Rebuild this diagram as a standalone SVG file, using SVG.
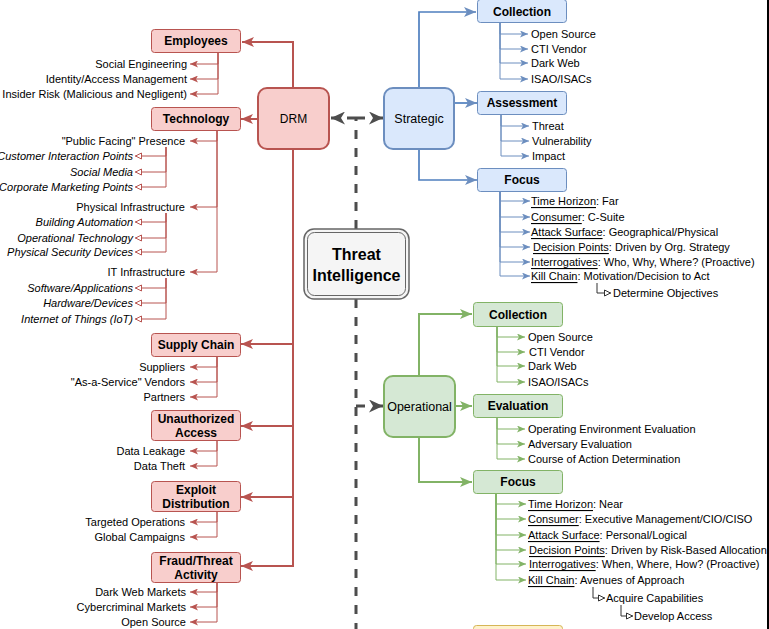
<svg xmlns="http://www.w3.org/2000/svg" width="769" height="629" viewBox="0 0 769 629">
<style>
text{font-family:"Liberation Sans",Arial,sans-serif;fill:#000;}
.nb{font-size:12px;font-weight:bold;text-anchor:middle;dominant-baseline:central;}
.nr{font-size:12.5px;text-anchor:middle;dominant-baseline:central;}
.lf{font-size:11px;dominant-baseline:central;}
.le{font-size:11px;text-anchor:end;dominant-baseline:central;}
.li{font-size:11px;text-anchor:end;font-style:italic;dominant-baseline:central;}
.u{text-decoration:underline;}
.red{fill:#f8cecc;stroke:#b85450;}
.blue{fill:#dae8fc;stroke:#6c8ebf;}
.green{fill:#d5e8d4;stroke:#82b366;}
.rl{fill:none;stroke:#b85450;stroke-width:2;}
.rs{fill:none;stroke:#b85450;stroke-width:1;}
.bl{fill:none;stroke:#4f7fbf;stroke-width:1.7;}
.bs{fill:none;stroke:#6c8ebf;stroke-width:1;}
.gl{fill:none;stroke:#82b366;stroke-width:2;}
.gs{fill:none;stroke:#82b366;stroke-width:1;}
.ks{fill:none;stroke:#333;stroke-width:1;}
.dash{fill:none;stroke:#4d4d4d;stroke-width:3;stroke-dasharray:9 9;}
</style>
<defs>
<marker id="aRed" viewBox="0 0 12 10" refX="12" refY="5" markerWidth="12" markerHeight="10" markerUnits="userSpaceOnUse" orient="auto"><path d="M0,0 L12,5 L0,10 L3,5 Z" fill="#b85450"/></marker>
<marker id="sRed" viewBox="0 0 8 7" refX="8" refY="3.5" markerWidth="8" markerHeight="7" markerUnits="userSpaceOnUse" orient="auto"><path d="M0,0 L8,3.5 L0,7 L2,3.5 Z" fill="#b85450"/></marker>
<marker id="oRed" viewBox="0 0 8 8" refX="7.5" refY="4" markerWidth="8" markerHeight="8" markerUnits="userSpaceOnUse" orient="auto"><path d="M1,1 L7,4 L1,7 Z" fill="#fff" stroke="#b85450" stroke-width="1"/></marker>
<marker id="aBlue" viewBox="0 0 12 10" refX="12" refY="5" markerWidth="12" markerHeight="10" markerUnits="userSpaceOnUse" orient="auto"><path d="M0,0 L12,5 L0,10 L3,5 Z" fill="#6c8ebf"/></marker>
<marker id="sBlue" viewBox="0 0 8 7" refX="8" refY="3.5" markerWidth="8" markerHeight="7" markerUnits="userSpaceOnUse" orient="auto"><path d="M0,0 L8,3.5 L0,7 L2,3.5 Z" fill="#6c8ebf"/></marker>
<marker id="aGreen" viewBox="0 0 12 10" refX="12" refY="5" markerWidth="12" markerHeight="10" markerUnits="userSpaceOnUse" orient="auto"><path d="M0,0 L12,5 L0,10 L3,5 Z" fill="#82b366"/></marker>
<marker id="sGreen" viewBox="0 0 8 7" refX="8" refY="3.5" markerWidth="8" markerHeight="7" markerUnits="userSpaceOnUse" orient="auto"><path d="M0,0 L8,3.5 L0,7 L2,3.5 Z" fill="#82b366"/></marker>
<marker id="oBlack" viewBox="0 0 8 8" refX="7.5" refY="4" markerWidth="8" markerHeight="8" markerUnits="userSpaceOnUse" orient="auto"><path d="M1,1 L7,4 L1,7 Z" fill="#fff" stroke="#333" stroke-width="1"/></marker>
<marker id="aDark" viewBox="0 0 14 13" refX="14" refY="6.5" markerWidth="14" markerHeight="13" markerUnits="userSpaceOnUse" orient="auto"><path d="M0,0 L14,6.5 L0,13 L4,6.5 Z" fill="#4d4d4d"/></marker>
</defs>
<rect x="0" y="0" width="769" height="629" fill="#fff"/>

<g id="connectors">
<!-- dashed -->
<path class="dash" d="M356,229 V118"/>
<path class="dash" d="M356,118 H331" marker-end="url(#aDark)"/>
<path class="dash" d="M356,118 H383" marker-end="url(#aDark)"/>
<path class="dash" d="M356,299 V640"/>
<path class="dash" d="M356,406 H383" marker-end="url(#aDark)"/>
<!-- DRM main -->
<path class="rl" d="M293,88 V42 H242" marker-end="url(#aRed)"/>
<path class="rl" d="M258,119 H241" marker-end="url(#aRed)"/>
<path class="rl" d="M293,149 V344 H241" marker-end="url(#aRed)"/>
<path class="rl" d="M293,149 V426 H241" marker-end="url(#aRed)"/>
<path class="rl" d="M293,149 V497 H241" marker-end="url(#aRed)"/>
<path class="rl" d="M293,149 V566 H241" marker-end="url(#aRed)"/>
<!-- Employees leaves -->
<path class="rs" d="M218,53 V64 H190" marker-end="url(#sRed)"/>
<path class="rs" d="M218,53 V79 H190" marker-end="url(#sRed)"/>
<path class="rs" d="M218,53 V94 H190" marker-end="url(#sRed)"/>
<!-- Technology leaves -->
<path class="rs" d="M217,130 V141 H190" marker-end="url(#sRed)"/>
<path class="rs" d="M217,130 V207 H190" marker-end="url(#sRed)"/>
<path class="rs" d="M217,130 V272 H190" marker-end="url(#sRed)"/>
<path class="rs" d="M166,147 V156 H135" marker-end="url(#oRed)"/>
<path class="rs" d="M166,147 V172 H135" marker-end="url(#oRed)"/>
<path class="rs" d="M166,147 V187 H135" marker-end="url(#oRed)"/>
<path class="rs" d="M166,213 V222 H135" marker-end="url(#oRed)"/>
<path class="rs" d="M166,213 V238 H135" marker-end="url(#oRed)"/>
<path class="rs" d="M166,213 V252 H135" marker-end="url(#oRed)"/>
<path class="rs" d="M166,278 V288 H135" marker-end="url(#oRed)"/>
<path class="rs" d="M166,278 V303 H135" marker-end="url(#oRed)"/>
<path class="rs" d="M166,278 V319 H135" marker-end="url(#oRed)"/>
<!-- Supply chain leaves -->
<path class="rs" d="M217,356 V367 H190" marker-end="url(#sRed)"/>
<path class="rs" d="M217,356 V382 H190" marker-end="url(#sRed)"/>
<path class="rs" d="M217,356 V397 H190" marker-end="url(#sRed)"/>
<!-- Unauthorized leaves -->
<path class="rs" d="M217,440 V451 H190" marker-end="url(#sRed)"/>
<path class="rs" d="M217,440 V466 H190" marker-end="url(#sRed)"/>
<!-- Exploit leaves -->
<path class="rs" d="M217,511 V522 H190" marker-end="url(#sRed)"/>
<path class="rs" d="M217,511 V537 H190" marker-end="url(#sRed)"/>
<!-- Fraud leaves -->
<path class="rs" d="M217,582 V592 H190" marker-end="url(#sRed)"/>
<path class="rs" d="M217,582 V607 H190" marker-end="url(#sRed)"/>
<path class="rs" d="M217,582 V622 H190" marker-end="url(#sRed)"/>
<!-- Strategic -->
<path class="bl" d="M419,87 V12 H476" marker-end="url(#aBlue)"/>
<path class="bl" d="M454,103 H477" marker-end="url(#aBlue)"/>
<path class="bl" d="M419,149 V180 H477" marker-end="url(#aBlue)"/>
<path class="bs" d="M500,23 V34 H528" marker-end="url(#sBlue)"/>
<path class="bs" d="M500,23 V49 H528" marker-end="url(#sBlue)"/>
<path class="bs" d="M500,23 V63 H528" marker-end="url(#sBlue)"/>
<path class="bs" d="M500,23 V79 H528" marker-end="url(#sBlue)"/>
<path class="bs" d="M501,115 V126 H529" marker-end="url(#sBlue)"/>
<path class="bs" d="M501,115 V141 H529" marker-end="url(#sBlue)"/>
<path class="bs" d="M501,115 V156 H529" marker-end="url(#sBlue)"/>
<path class="bs" d="M500,191 V201 H530" marker-end="url(#sBlue)"/>
<path class="bs" d="M500,191 V217 H530" marker-end="url(#sBlue)"/>
<path class="bs" d="M500,191 V232 H530" marker-end="url(#sBlue)"/>
<path class="bs" d="M500,191 V247 H530" marker-end="url(#sBlue)"/>
<path class="bs" d="M500,191 V262 H530" marker-end="url(#sBlue)"/>
<path class="bs" d="M500,191 V276 H530" marker-end="url(#sBlue)"/>
<path class="ks" d="M597,283 V293 H611" marker-end="url(#oBlack)"/>
<!-- Operational -->
<path class="gl" d="M419,376 V314 H472" marker-end="url(#aGreen)"/>
<path class="gl" d="M455,406 H472" marker-end="url(#aGreen)"/>
<path class="gl" d="M419,437 V482 H472" marker-end="url(#aGreen)"/>
<path class="gs" d="M497,327 V337 H525" marker-end="url(#sGreen)"/>
<path class="gs" d="M497,327 V352 H525" marker-end="url(#sGreen)"/>
<path class="gs" d="M497,327 V366 H525" marker-end="url(#sGreen)"/>
<path class="gs" d="M497,327 V382 H525" marker-end="url(#sGreen)"/>
<path class="gs" d="M497,418 V429 H525" marker-end="url(#sGreen)"/>
<path class="gs" d="M497,418 V444 H525" marker-end="url(#sGreen)"/>
<path class="gs" d="M497,418 V459 H525" marker-end="url(#sGreen)"/>
<path class="gs" d="M496,494 V504 H526" marker-end="url(#sGreen)"/>
<path class="gs" d="M496,494 V519 H526" marker-end="url(#sGreen)"/>
<path class="gs" d="M496,494 V535 H526" marker-end="url(#sGreen)"/>
<path class="gs" d="M496,494 V550 H526" marker-end="url(#sGreen)"/>
<path class="gs" d="M496,494 V564 H526" marker-end="url(#sGreen)"/>
<path class="gs" d="M496,494 V580 H526" marker-end="url(#sGreen)"/>
<path class="ks" d="M593,587 V598 H605" marker-end="url(#oBlack)"/>
<path class="ks" d="M621,605 V616 H633" marker-end="url(#oBlack)"/>
</g>

<g id="threat-intelligence">
<rect x="304" y="229" width="105" height="70" rx="10" fill="#f5f5f5" stroke="#666" stroke-width="1.5"/>
<rect x="307.5" y="232.5" width="98" height="63" rx="7" fill="none" stroke="#666" stroke-width="1"/>
<text x="356.5" y="254" class="nb" style="font-size:16px">Threat</text>
<text x="356.5" y="275" class="nb" style="font-size:16px">Intelligence</text>
</g>

<g id="drm">
<rect class="red" x="258" y="88" width="71" height="61" rx="9" stroke-width="2"/>
<text x="293.5" y="118.5" class="nr" style="font-size:12px">DRM</text>
</g>
<g id="employees">
<rect class="red" x="151.5" y="29.5" width="89" height="23" rx="3"/>
<text x="196" y="41" class="nb">Employees</text>
<text x="187" y="64" class="le">Social Engineering</text>
<text x="187" y="79" class="le">Identity/Access Management</text>
<text x="187" y="94" class="le">Insider Risk (Malicious and Negligent)</text>
</g>
<g id="technology">
<rect class="red" x="151.5" y="107.5" width="89" height="23" rx="3"/>
<text x="196" y="119" class="nb">Technology</text>
<text x="185" y="141" class="le">"Public Facing" Presence</text>
<text x="133" y="156" class="li">Customer Interaction Points</text>
<text x="133" y="172" class="li">Social Media</text>
<text x="133" y="187" class="li">Corporate Marketing Points</text>
<text x="185" y="207" class="le">Physical Infrastructure</text>
<text x="133" y="222" class="li">Building Automation</text>
<text x="133" y="238" class="li">Operational Technology</text>
<text x="133" y="252" class="li">Physical Security Devices</text>
<text x="185" y="272" class="le">IT Infrastructure</text>
<text x="133" y="288" class="li">Software/Applications</text>
<text x="133" y="303" class="li">Hardware/Devices</text>
<text x="133" y="319" class="li">Internet of Things (IoT)</text>
</g>
<g id="supply-chain">
<rect class="red" x="151.5" y="333.5" width="89" height="23" rx="3"/>
<text x="196" y="345" class="nb">Supply Chain</text>
<text x="185" y="367" class="le">Suppliers</text>
<text x="185" y="382" class="le">"As-a-Service" Vendors</text>
<text x="185" y="397" class="le">Partners</text>
</g>
<g id="unauthorized-access">
<rect class="red" x="151.5" y="410.5" width="89" height="30" rx="3"/>
<text x="196" y="418.5" class="nb">Unauthorized</text>
<text x="196" y="432.5" class="nb">Access</text>
<text x="185" y="451" class="le">Data Leakage</text>
<text x="185" y="466" class="le">Data Theft</text>
</g>
<g id="exploit-distribution">
<rect class="red" x="151.5" y="481.5" width="89" height="30" rx="3"/>
<text x="196" y="489.5" class="nb">Exploit</text>
<text x="196" y="503.5" class="nb">Distribution</text>
<text x="185" y="522" class="le">Targeted Operations</text>
<text x="185" y="537" class="le">Global Campaigns</text>
</g>
<g id="fraud-threat-activity">
<rect class="red" x="151.5" y="552.5" width="89" height="30" rx="3"/>
<text x="196" y="560.5" class="nb">Fraud/Threat</text>
<text x="196" y="574.5" class="nb">Activity</text>
<text x="186" y="592" class="le">Dark Web Markets</text>
<text x="186" y="607" class="le">Cybercriminal Markets</text>
<text x="186" y="622" class="le">Open Source</text>
</g>

<g id="strategic">
<rect class="blue" x="384" y="88" width="70" height="61" rx="9" stroke-width="2"/>
<text x="419" y="118.5" class="nr">Strategic</text>
</g>
<g id="strategic-collection">
<rect class="blue" x="477.5" y="-0.5" width="89" height="23" rx="3"/>
<text x="522" y="11.5" class="nb">Collection</text>
<text x="531" y="34" class="lf">Open Source</text>
<text x="531" y="49" class="lf">CTI Vendor</text>
<text x="531" y="63" class="lf">Dark Web</text>
<text x="531" y="79" class="lf">ISAO/ISACs</text>
</g>
<g id="strategic-assessment">
<rect class="blue" x="477.5" y="91.5" width="89" height="23" rx="3"/>
<text x="522" y="103" class="nb">Assessment</text>
<text x="532" y="126" class="lf">Threat</text>
<text x="532" y="141" class="lf">Vulnerability</text>
<text x="532" y="156" class="lf">Impact</text>
</g>
<g id="strategic-focus">
<rect class="blue" x="477.5" y="168.5" width="89" height="23" rx="3"/>
<text x="522" y="180" class="nb">Focus</text>
<text x="531" y="201" class="lf"><tspan class="u">Time Horizon</tspan>: Far</text>
<text x="531" y="217" class="lf"><tspan class="u">Consumer</tspan>: C-Suite</text>
<text x="531" y="232" class="lf"><tspan class="u">Attack Surface</tspan>: Geographical/Physical</text>
<text x="533" y="247" class="lf"><tspan class="u">Decision Points</tspan>: Driven by Org. Strategy</text>
<text x="531" y="262" class="lf"><tspan class="u">Interrogatives</tspan>: Who, Why, Where? (Proactive)</text>
<text x="531" y="276" class="lf"><tspan class="u">Kill Chain</tspan>: Motivation/Decision to Act</text>
<text x="613" y="293" class="lf">Determine Objectives</text>
</g>

<g id="operational">
<rect class="green" x="384" y="376" width="71" height="61" rx="9" stroke-width="2"/>
<text x="419.5" y="406.5" class="nr">Operational</text>
</g>
<g id="operational-collection">
<rect class="green" x="473.5" y="302.5" width="89" height="24" rx="3"/>
<text x="518" y="314.5" class="nb">Collection</text>
<text x="528" y="337" class="lf">Open Source</text>
<text x="529" y="352" class="lf">CTI Vendor</text>
<text x="528" y="366" class="lf">Dark Web</text>
<text x="528" y="382" class="lf">ISAO/ISACs</text>
</g>
<g id="operational-evaluation">
<rect class="green" x="473.5" y="394.5" width="89" height="23" rx="3"/>
<text x="518" y="406" class="nb">Evaluation</text>
<text x="528" y="429" class="lf">Operating Environment Evaluation</text>
<text x="528" y="444" class="lf">Adversary Evaluation</text>
<text x="528" y="459" class="lf">Course of Action Determination</text>
</g>
<g id="operational-focus">
<rect class="green" x="473.5" y="470.5" width="89" height="23" rx="3"/>
<text x="518" y="482" class="nb">Focus</text>
<text x="528" y="504" class="lf"><tspan class="u">Time Horizon</tspan>: Near</text>
<text x="528" y="519" class="lf"><tspan class="u">Consumer</tspan>: Executive Management/CIO/CISO</text>
<text x="528" y="535" class="lf"><tspan class="u">Attack Surface</tspan>: Personal/Logical</text>
<text x="529" y="550" class="lf"><tspan class="u">Decision Points</tspan>: Driven by Risk-Based Allocation</text>
<text x="529" y="564" class="lf"><tspan class="u">Interrogatives</tspan>: When, Where, How? (Proactive)</text>
<text x="528" y="580" class="lf"><tspan class="u">Kill Chain</tspan>: Avenues of Approach</text>
<text x="606" y="598" class="lf">Acquire Capabilities</text>
<text x="634" y="616" class="lf">Develop Access</text>
</g>
<g id="tactical">
<rect x="473.5" y="625.5" width="89" height="23" rx="3" fill="#fff2cc" stroke="#d6b656"/>
</g>
<rect x="767" y="0" width="2" height="629" fill="#000"/>
</svg>
